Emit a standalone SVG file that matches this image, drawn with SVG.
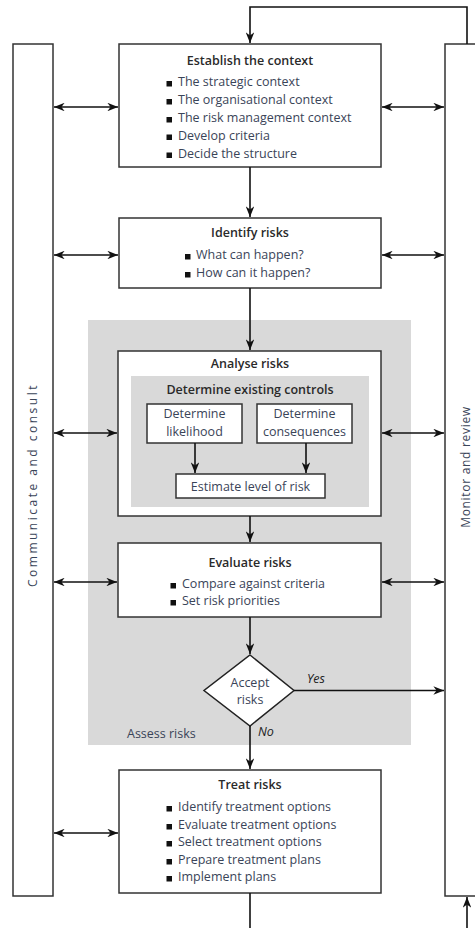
<svg xmlns="http://www.w3.org/2000/svg" width="475" height="928" viewBox="0 0 475 928">
<style>
.box{fill:#fff;stroke:#333;stroke-width:1.5}
.bar{fill:#fff;stroke:#333;stroke-width:1.5}
.ln{fill:none;stroke:#111;stroke-width:1.6}
.t{font-family:"Open Sans","Noto Sans",sans-serif;font-size:12.5px;fill:#2a2a2a;font-weight:600;text-anchor:middle}
.b{font-family:"Open Sans","Noto Sans",sans-serif;font-size:12.5px;fill:#3a4458}
.c{font-family:"Open Sans","Noto Sans",sans-serif;font-size:12.5px;fill:#3a4458;text-anchor:middle}
.v{font-family:"Open Sans","Noto Sans",sans-serif;font-size:12px;fill:#3a4458;text-anchor:middle}
.i{font-family:"Open Sans","Noto Sans",sans-serif;font-size:12.5px;fill:#222;font-style:italic}
.sq{fill:#111}
</style>
<defs>
<marker id="ah" viewBox="0 0 10 8" refX="10" refY="4" markerWidth="11" markerHeight="8.5" markerUnits="userSpaceOnUse" orient="auto-start-reverse">
<path d="M0,0 L10,4 L0,8 L3,4 z" fill="#111"/>
</marker>
</defs>
<g id="assess-bg">
<rect x="88" y="320" width="323" height="425" fill="#d9d9d9"/>
<text class="b" x="127" y="738">Assess risks</text>
</g>
<g id="communicate">
<rect class="bar" x="13" y="44" width="40" height="852"/>
<text class="v" transform="translate(37,485) rotate(-90)" letter-spacing="2.5">Communicate and consult</text>
</g>
<g id="monitor">
<rect class="bar" x="445" y="44" width="40" height="852"/>
<text class="v" transform="translate(470,467) rotate(-90)" letter-spacing="0.7">Monitor and review</text>
</g>
<g id="establish">
<rect class="box" x="119" y="44" width="262" height="123"/>
<text class="t" x="250" y="65">Establish the context</text>
<rect class="sq" x="166.5" y="81" width="5.5" height="5.5"/><text class="b" x="178" y="86">The strategic context</text>
<rect class="sq" x="166.5" y="99" width="5.5" height="5.5"/><text class="b" x="178" y="104">The organisational context</text>
<rect class="sq" x="166.5" y="117" width="5.5" height="5.5"/><text class="b" x="178" y="122">The risk management context</text>
<rect class="sq" x="166.5" y="134.5" width="5.5" height="5.5"/><text class="b" x="178" y="139.5">Develop criteria</text>
<rect class="sq" x="166.5" y="152.5" width="5.5" height="5.5"/><text class="b" x="178" y="157.5">Decide the structure</text>
</g>
<g id="identify">
<rect class="box" x="119" y="218" width="262" height="70"/>
<text class="t" x="250" y="237">Identify risks</text>
<rect class="sq" x="185" y="254" width="5.5" height="5.5"/><text class="b" x="196" y="259">What can happen?</text>
<rect class="sq" x="185" y="272" width="5.5" height="5.5"/><text class="b" x="196" y="277">How can it happen?</text>
</g>
<g id="analyse">
<rect class="box" x="118" y="351" width="263" height="165"/>
<text class="t" x="250" y="368">Analyse risks</text>
<rect x="131" y="376" width="238" height="131" fill="#d9d9d9"/>
<text class="t" x="250" y="394">Determine existing controls</text>
</g>
<g id="likelihood">
<rect class="box" x="147" y="404" width="95" height="39"/>
<text class="c" x="194.5" y="418">Determine</text>
<text class="c" x="194.5" y="436">likelihood</text>
</g>
<g id="consequences">
<rect class="box" x="257" y="404" width="95" height="39"/>
<text class="c" x="304.5" y="418">Determine</text>
<text class="c" x="304.5" y="436">consequences</text>
</g>
<g id="estimate">
<rect class="box" x="176" y="474" width="149" height="24"/>
<text class="c" x="250.5" y="491">Estimate level of risk</text>
</g>
<g id="evaluate">
<rect class="box" x="118" y="543" width="263" height="74"/>
<text class="t" x="250" y="567">Evaluate risks</text>
<rect class="sq" x="170.5" y="583" width="5.5" height="5.5"/><text class="b" x="182" y="588">Compare against criteria</text>
<rect class="sq" x="170.5" y="600" width="5.5" height="5.5"/><text class="b" x="182" y="605">Set risk priorities</text>
</g>
<g id="accept">
<polygon points="250,655 294,690.5 250,726 204,690.5" fill="#fff" stroke="#222" stroke-width="1.5"/>
<text class="c" x="250" y="687">Accept</text>
<text class="c" x="250" y="704">risks</text>
</g>
<g id="treat">
<rect class="box" x="119" y="770" width="262" height="123"/>
<text class="t" x="250" y="789">Treat risks</text>
<rect class="sq" x="166.5" y="806" width="5.5" height="5.5"/><text class="b" x="178" y="811">Identify treatment options</text>
<rect class="sq" x="166.5" y="824" width="5.5" height="5.5"/><text class="b" x="178" y="829">Evaluate treatment options</text>
<rect class="sq" x="166.5" y="841" width="5.5" height="5.5"/><text class="b" x="178" y="846">Select treatment options</text>
<rect class="sq" x="166.5" y="859" width="5.5" height="5.5"/><text class="b" x="178" y="864">Prepare treatment plans</text>
<rect class="sq" x="166.5" y="876" width="5.5" height="5.5"/><text class="b" x="178" y="881">Implement plans</text>
</g>
<g id="connectors">
<polyline class="ln" points="467,44 467,7 250,7 250,43" marker-end="url(#ah)"/>
<line class="ln" x1="250" y1="167" x2="250" y2="217" marker-end="url(#ah)"/>
<line class="ln" x1="250" y1="288" x2="250" y2="350" marker-end="url(#ah)"/>
<line class="ln" x1="195" y1="443" x2="195" y2="473" marker-end="url(#ah)"/>
<line class="ln" x1="306" y1="443" x2="306" y2="473" marker-end="url(#ah)"/>
<line class="ln" x1="250" y1="516" x2="250" y2="542" marker-end="url(#ah)"/>
<line class="ln" x1="250" y1="617" x2="250" y2="654" marker-end="url(#ah)"/>
<line class="ln" x1="294" y1="690.5" x2="444" y2="690.5" marker-end="url(#ah)"/>
<line class="ln" x1="250" y1="726" x2="250" y2="769" marker-end="url(#ah)"/>
<line class="ln" x1="250" y1="893" x2="250" y2="928"/>
<line class="ln" x1="467" y1="928" x2="467" y2="897" marker-end="url(#ah)"/>
<line class="ln" x1="54" y1="107" x2="118" y2="107" marker-start="url(#ah)" marker-end="url(#ah)"/>
<line class="ln" x1="382" y1="107" x2="444" y2="107" marker-start="url(#ah)" marker-end="url(#ah)"/>
<line class="ln" x1="54" y1="255" x2="118" y2="255" marker-start="url(#ah)" marker-end="url(#ah)"/>
<line class="ln" x1="382" y1="255" x2="444" y2="255" marker-start="url(#ah)" marker-end="url(#ah)"/>
<line class="ln" x1="54" y1="433" x2="117" y2="433" marker-start="url(#ah)" marker-end="url(#ah)"/>
<line class="ln" x1="382" y1="433" x2="444" y2="433" marker-start="url(#ah)" marker-end="url(#ah)"/>
<line class="ln" x1="54" y1="582" x2="117" y2="582" marker-start="url(#ah)" marker-end="url(#ah)"/>
<line class="ln" x1="382" y1="582" x2="444" y2="582" marker-start="url(#ah)" marker-end="url(#ah)"/>
<line class="ln" x1="54" y1="833" x2="118" y2="833" marker-start="url(#ah)" marker-end="url(#ah)"/>
<text class="i" x="307" y="683">Yes</text>
<text class="i" x="258" y="736">No</text>
</g>
</svg>
